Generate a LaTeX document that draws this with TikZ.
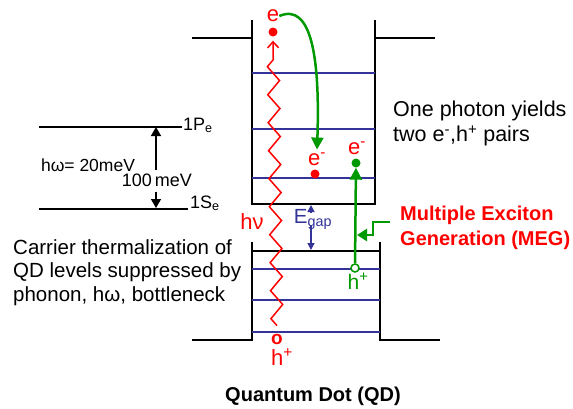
\documentclass[tikz,border=0pt]{standalone}
\usepackage{fontspec}
\setmainfont{Liberation Sans}
\usetikzlibrary{arrows.meta, calc, decorations.pathmorphing}
\definecolor{qdred}{RGB}{255,0,0}
\definecolor{qdgreen}{RGB}{0,153,0}
\definecolor{qdblue}{RGB}{51,51,153}

\begin{document}
\begin{tikzpicture}[x=1pt, y=-1pt,
  wall/.style={black, line width=2pt},
  level/.style={qdblue, line width=1.5pt},
  txt/.style={inner sep=0pt, font=\fontsize{20.5}{23.5}\selectfont},
  red lbl/.style={inner sep=0pt, qdred, font=\fontsize{22}{24}\selectfont},
  lbl/.style={inner sep=0pt, font=\fontsize{18}{22}\selectfont},
  carrier/.style={circle, fill=#1, inner sep=0pt, minimum size=9pt},
  hop/.style={qdgreen, line width=2.5pt, -{Triangle[length=12pt, width=12pt]}}]
  \useasboundingbox (0,0) rectangle (573,408);

  % conduction band well
  \draw[wall] (252,20) -- (252,204) -- (375,204) -- (375,20);
  \draw[wall] (192,38) -- (252,38);
  \draw[wall] (375,38) -- (435,38);
  \foreach \y in {73,129,178}
    \draw[level] (252,\y) -- (375,\y);

  % valence band well
  \draw[wall] (252,242) -- (252,340) -- (192,340);
  \draw[wall] (380,242) -- (380,340) -- (440,340);
  \draw[wall] (252,251) -- (380,251);
  \foreach \y in {269,300,332}
    \draw[level] (252,\y) -- (380,\y);

  % bulk levels on the left
  \draw[wall, line width=1.5pt] (39,127) -- (182,127);
  \draw[wall, line width=1.5pt] (39,209) -- (188,209);
  \node[lbl, anchor=base west] (pe) at (183,130) {1P\textsubscript{e}};
  \node[lbl, anchor=base west] (se) at (190,208) {1S\textsubscript{e}};
  \node[lbl, font=\fontsize{17.5}{22}\selectfont] (hw) at (88,165) {hω= 20meV};
  \node[lbl] (mev) at (157,180) {100\,meV};
  \coordinate (pup) at (156,127);
  \coordinate (sdn) at (156,208);
  \draw[line width=1.5pt, -{Triangle[length=9pt, width=10pt]}] ($(mev.north -| pup)+(0,-3)$) -- (pup);
  \draw[line width=1.5pt, -{Triangle[length=9pt, width=10pt]}] ($(mev.south -| sdn)+(0,5)$) -- (sdn);

  % photon absorption
  \node[red lbl] (etop) at (273,16) {e};
  \node[carrier=qdred] (edot) at (273,32) {};
  \node[red lbl, font=\fontsize{19}{22}\selectfont\bfseries] (hole) at (277,339) {o};
  \node[red lbl] (hbot) at (282,357) {h\textsuperscript{+}};
  \draw[qdred, line width=1.5pt, decorate,
    decoration={zigzag, segment length=28pt, amplitude=6pt, post length=10pt},
    -{Straight Barb[length=6pt, width=11pt]}]
    ([yshift=8pt]hole.north) -- ([yshift=-4pt]edot.south);
  \node[red lbl] (hnu) at (252,222) {hν};

  % relaxation of the hot electron
  \node[carrier=qdred] (emid) at (315,174) {};
  \node[red lbl] (emidl) at (317,159) {e\textsuperscript{-}};
  \draw[hop] (etop.east) .. controls (312,2) and (320,60) .. ([yshift=3pt]emidl.north);

  % second exciton
  \node[carrier=qdgreen] (egrn) at (356,163) {};
  \node[red lbl] (egrnl) at (357,148) {e\textsuperscript{-}};
  \node[circle, draw=qdgreen, fill=white, line width=1.5pt, inner sep=0pt, minimum size=8pt] (hgrn) at (355,268) {};
  \node[red lbl, qdgreen, font=\fontsize{21}{24}\selectfont] (hgrnl) at (358,281) {h\textsuperscript{+}};
  \draw[hop] (hgrn) -- (egrn);

  % band gap
  \node[txt, qdblue] (egap) at (313,219) {E\textsubscript{gap}};
  \coordinate (cbot) at (311,205);
  \coordinate (vtop) at (311,250);
  \draw[qdblue, line width=1.5pt, -{Triangle[length=7pt, width=7pt]}] ($(egap.north -| cbot)+(0,4)$) -- (cbot);
  \draw[qdblue, line width=1.5pt, -{Triangle[length=7pt, width=7pt]}] ($(egap.south -| vtop)+(0,-4)$) -- (vtop);

  % labels
  \node[txt, anchor=north west, align=left, font=\fontsize{21.5}{25}\selectfont] (yield) at (393,101)
    {One photon yields\\two e\textsuperscript{-},h\textsuperscript{+} pairs};
  \node[txt, qdred, anchor=north west, align=left, font=\fontsize{20}{25}\selectfont\bfseries] (meg) at (400,206)
    {Multiple Exciton\\Generation (MEG)};
  \coordinate (megin) at (390,222);
  \coordinate (megtip) at (357,235);
  \draw[qdgreen, line width=2.5pt, -{Triangle[length=10pt, width=12pt]}]
    (megin) -| ($(megtip)+(16,0)$) -- (megtip);
  \node[txt, anchor=north west, align=left] (therm) at (13,239)
    {Carrier thermalization of\\QD levels suppressed by\\phonon, hω, bottleneck};
  \node[txt, font=\fontsize{20}{24}\selectfont\bfseries] (qd) at (313,396) {Quantum Dot (QD)};
\end{tikzpicture}
\end{document}
